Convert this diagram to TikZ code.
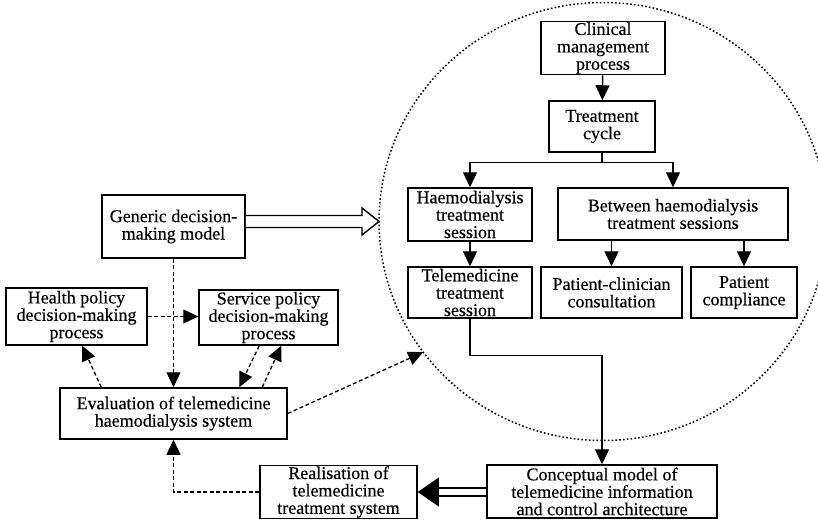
\documentclass[tikz,border=0pt]{standalone}
\usepackage{fontspec}
\setmainfont{Liberation Serif}
\newfontfamily\boxfont{Liberation Serif}[FakeBold=0.35]
\usetikzlibrary{arrows.meta,shapes.geometric,calc}

\begin{document}
\begin{tikzpicture}[x=1pt,y=-1pt,
  box/.style={draw, line width=1.5pt, align=center, inner sep=1pt,
    font=\boxfont\fontsize{18}{17.4}\selectfont},
  solidarr/.style={line width=1.4pt, -{Triangle[length=15pt,width=14pt]}},
  dasharr/.style={line width=1.3pt, dash pattern=on 4pt off 2.5pt,
    -{Triangle[length=15pt,width=14pt]}},
  link/.style={line width=1.4pt},
]
\useasboundingbox (0,0) rectangle (818,520);
\fill[white] (0,0) rectangle (818,520);
\clip (0,0) rectangle (818,520);

% dotted zone around the clinical process
\node[draw, ellipse, minimum width=448, minimum height=438, inner sep=0pt,
  outer sep=0pt, line width=1.5pt, dash pattern=on 1.6pt off 2.2pt]
  (zone) at (603,221.5) {};

% clinical side
\node[box, minimum width=124, minimum height=52] (clin) at (603,48) {Clinical\\management\\process};
\node[box, minimum width=106, minimum height=51] (treat) at (602,126.5) {Treatment\\cycle};
\node[box, minimum width=124, minimum height=53] (haemo) at (470,214.5) {Haemodialysis\\treatment\\session};
\node[box, minimum width=230, minimum height=52] (betw) at (673,214) {Between haemodialysis\\treatment sessions};
\node[box, minimum width=124, minimum height=51] (tele) at (470,292.5) {Telemedicine\\treatment\\session};
\node[box, minimum width=141, minimum height=51] (cons) at (611.5,292.5) {Patient-clinician\\consultation};
\node[box, minimum width=106, minimum height=51] (comp) at (744,292.5) {Patient\\compliance};
\node[box, minimum width=230, minimum height=53] (conc) at (602,491.5) {Conceptual model of\\telemedicine information\\and control architecture};
\node[box, minimum width=157, minimum height=52] (real) at (338.5,492) {Realisation of\\telemedicine\\treatment system};

% policy side
\node[box, minimum width=143, minimum height=63] (gen) at (173.5,226.5) {Generic decision-\\making model};
\node[box, minimum width=141, minimum height=57] (health) at (76.5,316.5) {Health policy\\decision-making\\process};
\node[box, minimum width=139, minimum height=55] (serv) at (268.5,317.5) {Service policy\\decision-making\\process};
\node[box, minimum width=227, minimum height=51] (eval) at (173.5,413.5) {Evaluation of telemedicine\\haemodialysis system};

% solid connectors
\draw[solidarr] (clin) -- (treat);
\draw[solidarr] (treat.south) -- ++(0,10) -| (haemo.north);
\draw[solidarr] (treat.south) -- ++(0,10) -| (betw.north);
\draw[solidarr] (haemo) -- (tele);
\draw[solidarr] (betw.south -| cons.north) -- (cons.north);
\draw[solidarr] (betw.south -| comp.north) -- (comp.north);
\draw[solidarr] (tele.south) -- ++(0,37) -| (conc.north);

% hollow double arrow into the zone
\coordinate (gt) at (zone.west);
\coordinate (gu) at ($(gt)+(0,-6)$);
\coordinate (gl) at ($(gt)+(0,6)$);
\draw[link, fill=white] (gen.east |- gu) -- ($(gu)+(-17,0)$) -- ($(gt)+(-17,-13.5)$)
  -- (gt) -- ($(gt)+(-17,13.5)$) -- ($(gl)+(-17,0)$) -- (gen.east |- gl);

% filled double arrow towards the realisation
\coordinate (rt) at (real.east);
\coordinate (ra) at ($(rt)+(0,-4)$);
\coordinate (rb) at ($(rt)+(0,4)$);
\draw[link] (conc.west |- ra) -- ($(ra)+(21,0)$);
\draw[link] (conc.west |- rb) -- ($(rb)+(21,0)$);
\fill (rt) -- ($(rt)+(21,-14.5)$) -- ($(rt)+(21,14.5)$) -- cycle;

% dashed connectors
\draw[dasharr] (gen.south) -- (eval.north);
\draw[dasharr] (health.east) -- (health.east -| serv.west);
\draw[dasharr] ($(eval.north west)+(42,0)$) -- ($(health.south west)+(77,0)$);
\draw[dasharr] ($(serv.south west)+(61,0)$) -- ($(eval.north west)+(180,0)$);
\draw[dasharr] ($(eval.north west)+(203,0)$) -- ($(serv.south west)+(83,0)$);
\draw[dasharr] (eval.east) -- (zone.216.2);
\draw[dasharr] (real.west) -| (eval.south);
\end{tikzpicture}
\end{document}
